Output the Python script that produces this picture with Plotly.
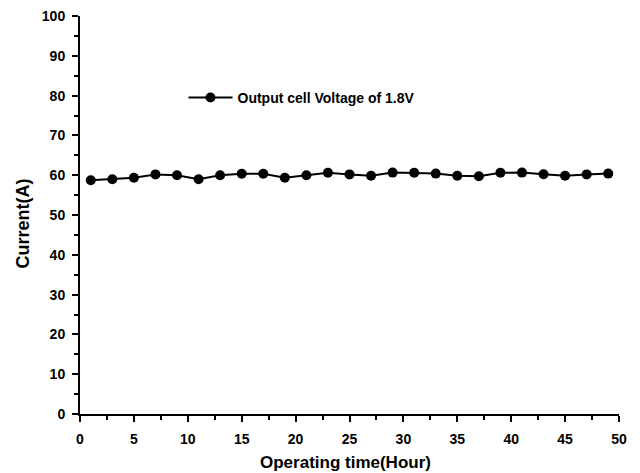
import plotly.graph_objects as go

# Operating time (hours) and measured current (A)
hours = [1, 3, 5, 7, 9, 11, 13, 15, 17, 19, 21, 23, 25,
         27, 29, 31, 33, 35, 37, 39, 41, 43, 45, 47, 49]
current = [58.75, 59.0, 59.35, 60.2, 60.0, 59.0, 60.0, 60.35, 60.35, 59.35, 60.0, 60.6, 60.2,
           59.85, 60.65, 60.6, 60.4, 59.85, 59.75, 60.6, 60.65, 60.25, 59.85, 60.2, 60.4]

series_name = "Output cell Voltage of 1.8V"
x_title = "Operating time(Hour)"
y_title = "Current(A)"

font_family = "Liberation Sans, Arial, sans-serif"

fig = go.Figure()
fig.add_trace(go.Scatter(
    x=hours, y=current, mode="lines+markers", name=series_name,
    line=dict(color="black", width=2),
    marker=dict(color="black", size=10),
))

axis_common = dict(
    showline=True, linecolor="black", linewidth=2,
    ticks="outside", tickwidth=2, ticklen=6, tickcolor="black",
    showgrid=False, zeroline=False, mirror=False, automargin=False,
    tickfont=dict(family=font_family, size=14, color="black", weight="bold"),
)

fig.update_layout(
    width=640, height=473,
    margin=dict(l=80, r=21, t=16, b=59),
    paper_bgcolor="white", plot_bgcolor="white",
    font=dict(family=font_family, color="black"),
    showlegend=True,
    legend=dict(
        x=0.192, y=0.794, xanchor="left", yanchor="middle",
        itemwidth=44,
        bgcolor="rgba(0,0,0,0)",
        font=dict(family=font_family, size=14, color="black", weight="bold"),
    ),
    xaxis=dict(
        range=[0, 50], tick0=0, dtick=5,
        ticklabelstandoff=5,
        minor=dict(ticks="outside", dtick=2.5, tick0=0, ticklen=4, tickwidth=2, tickcolor="black"),
        **axis_common,
    ),
    yaxis=dict(
        range=[0, 100], tick0=0, dtick=10,
        ticklabelstandoff=4,
        minor=dict(ticks="outside", dtick=5, tick0=0, ticklen=4, tickwidth=2, tickcolor="black"),
        **axis_common,
    ),
)

# Axis titles placed as annotations relative to the plotting area
fig.add_annotation(
    text=x_title, xref="paper", yref="paper", x=0.4917, y=-0.123,
    xanchor="center", yanchor="middle", showarrow=False,
    font=dict(family=font_family, size=17, color="black", weight="bold"),
)
fig.add_annotation(
    text=y_title, xref="paper", yref="paper", x=-0.1067, y=0.48,
    xanchor="center", yanchor="middle", textangle=-90, showarrow=False,
    font=dict(family=font_family, size=18, color="black", weight="bold"),
)

fig.write_html("out.html")
